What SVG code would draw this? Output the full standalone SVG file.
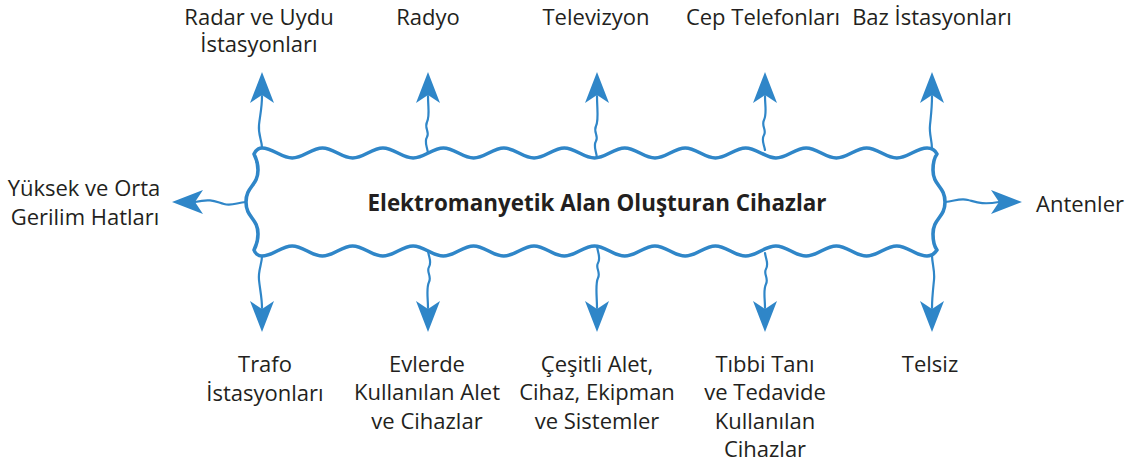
<svg xmlns="http://www.w3.org/2000/svg" xmlns:xlink="http://www.w3.org/1999/xlink" width="1137" height="466" viewBox="0 0 1137 466">
<style>
.lbl{font-family:"Open Sans","Liberation Sans",sans-serif;font-size:22px;fill:#231f20;text-anchor:middle}
.ttl{font-family:"Open Sans","Liberation Sans",sans-serif;font-size:22.4px;font-weight:bold;fill:#231f20;text-anchor:middle}
.edge{fill:#fff;stroke:#2f86c8;stroke-width:3.6;stroke-linejoin:round}
.sh{fill:none;stroke:#2f86c8;stroke-width:2.2;stroke-linecap:round}
.ah{fill:#2f86c8}
</style>
<defs>
<path id="ah" d="M0,0 L-31,-12 L-23,0 L-31,12 Z"/>
</defs>
<rect width="1137" height="466" fill="#fff"/>
<g id="connectors">
<path class="sh" d="M262,148 C262,140 258,135 259,125 C260,115 262,108 262,96"/>
<path class="sh" d="M428,153 C427,146 424,142 427,137 C430,132 424,128 427,122 C430,116 428,108 428,96"/>
<path class="sh" d="M597,158 C596,150 593,146 596,141 C599,136 593,132 596,126 C599,120 597,110 597,96"/>
<path class="sh" d="M765,150 C764,144 761,140 764,135 C767,130 761,126 764,120 C767,114 765,106 765,96"/>
<path class="sh" d="M932,149 C932,140 929,134 930,125 C931,115 932,108 932,96"/>
<path class="sh" d="M262,256 C262,264 258,270 259,280 C260,290 262,298 262,308"/>
<path class="sh" d="M428,251 C429,258 432,262 429,267 C426,272 432,276 429,282 C426,288 428,298 428,308"/>
<path class="sh" d="M597,246 C598,254 601,258 598,263 C595,268 601,272 598,278 C595,284 597,296 597,308"/>
<path class="sh" d="M765,253 C766,260 769,264 766,269 C763,274 769,278 766,284 C763,290 765,298 765,308"/>
<path class="sh" d="M932,255 C932,264 935,270 934,280 C933,290 932,298 932,308"/>
<path class="sh" d="M246,202 C236,203 232,206 224,204 C216,202 212,198 195,202"/>
<path class="sh" d="M945,202 C955,201 960,198 968,200 C976,202 982,205 999,202"/>
<use class="ah" xlink:href="#ah" transform="translate(262,72) rotate(-90)"/>
<use class="ah" xlink:href="#ah" transform="translate(428,72) rotate(-90)"/>
<use class="ah" xlink:href="#ah" transform="translate(597,72) rotate(-90)"/>
<use class="ah" xlink:href="#ah" transform="translate(765,72) rotate(-90)"/>
<use class="ah" xlink:href="#ah" transform="translate(932,72) rotate(-90)"/>
<use class="ah" xlink:href="#ah" transform="translate(262,332) rotate(90)"/>
<use class="ah" xlink:href="#ah" transform="translate(428,332) rotate(90)"/>
<use class="ah" xlink:href="#ah" transform="translate(597,332) rotate(90)"/>
<use class="ah" xlink:href="#ah" transform="translate(765,332) rotate(90)"/>
<use class="ah" xlink:href="#ah" transform="translate(932,332) rotate(90)"/>
<use class="ah" xlink:href="#ah" transform="translate(172,202) rotate(180)"/>
<use class="ah" xlink:href="#ah" transform="translate(1022,202)"/>
</g>
<g id="center">
<path class="edge" d="M254,154 C256,150 258,148 262,148 C272.9,148 281.35,158 292.23,158 s19.35,-10 30.23,-10 s19.35,10 30.23,10 s19.35,-10 30.23,-10 s19.35,10 30.23,10 s19.35,-10 30.23,-10 s19.35,10 30.23,10 s19.35,-10 30.23,-10 s19.35,10 30.23,10 s19.35,-10 30.23,-10 s19.35,10 30.23,10 s19.35,-10 30.23,-10 s19.35,10 30.23,10 s19.35,-10 30.23,-10 s19.35,10 30.23,10 s19.35,-10 30.23,-10 s19.35,10 30.23,10 s19.35,-10 30.23,-10 s19.35,10 30.23,10 s19.35,-10 30.23,-10 s19.35,10 30.23,10 s19.35,-10 30.23,-10 C931,148 935,150 937,154 C934,158 933,165 933,170 C933,186 945,186 945,202 C945,218 933,218 933,234 C933,240 934,246 937,250 C935,253 932,256 927,256 C916.1,256 907.65,246 896.77,246 s-19.35,10 -30.23,10 s-19.35,-10 -30.23,-10 s-19.35,10 -30.23,10 s-19.35,-10 -30.23,-10 s-19.35,10 -30.23,10 s-19.35,-10 -30.23,-10 s-19.35,10 -30.23,10 s-19.35,-10 -30.23,-10 s-19.35,10 -30.23,10 s-19.35,-10 -30.23,-10 s-19.35,10 -30.23,10 s-19.35,-10 -30.23,-10 s-19.35,10 -30.23,10 s-19.35,-10 -30.23,-10 s-19.35,10 -30.23,10 s-19.35,-10 -30.23,-10 s-19.35,10 -30.23,10 s-19.35,-10 -30.23,-10 s-19.35,10 -30.23,10 s-19.35,-10 -30.23,-10 s-19.35,10 -30.23,10 C258,256 255,253 254,250 C256,246 258,240 258,234 C258,218 246,218 246,202 C246,186 258,186 258,170 C258,164 256,158 254,154 Z"/>
<text class="ttl" x="597" y="211">Elektromanyetik Alan Oluşturan Cihazlar</text>
</g>
<g id="n-radar"><text class="lbl" x="259" y="25">Radar ve Uydu</text><text class="lbl" x="259" y="52">İstasyonları</text></g>
<g id="n-radyo"><text class="lbl" x="428" y="25">Radyo</text></g>
<g id="n-televizyon"><text class="lbl" x="596" y="25">Televizyon</text></g>
<g id="n-cep"><text class="lbl" x="763" y="25">Cep Telefonları</text></g>
<g id="n-baz"><text class="lbl" x="932" y="25">Baz İstasyonları</text></g>
<g id="n-yuksek"><text class="lbl" x="84" y="196">Yüksek ve Orta</text><text class="lbl" x="85" y="225">Gerilim Hatları</text></g>
<g id="n-antenler"><text class="lbl" x="1080" y="212">Antenler</text></g>
<g id="n-trafo"><text class="lbl" x="265" y="372">Trafo</text><text class="lbl" x="265" y="401">İstasyonları</text></g>
<g id="n-evlerde"><text class="lbl" x="427" y="372">Evlerde</text><text class="lbl" x="427" y="400">Kullanılan Alet</text><text class="lbl" x="427" y="429">ve Cihazlar</text></g>
<g id="n-cesitli"><text class="lbl" x="597" y="372">Çeşitli Alet,</text><text class="lbl" x="597" y="400">Cihaz, Ekipman</text><text class="lbl" x="597" y="429">ve Sistemler</text></g>
<g id="n-tibbi"><text class="lbl" x="765" y="372">Tıbbi Tanı</text><text class="lbl" x="765" y="400">ve Tedavide</text><text class="lbl" x="765" y="429">Kullanılan</text><text class="lbl" x="765" y="457">Cihazlar</text></g>
<g id="n-telsiz"><text class="lbl" x="930" y="372">Telsiz</text></g>
</svg>
